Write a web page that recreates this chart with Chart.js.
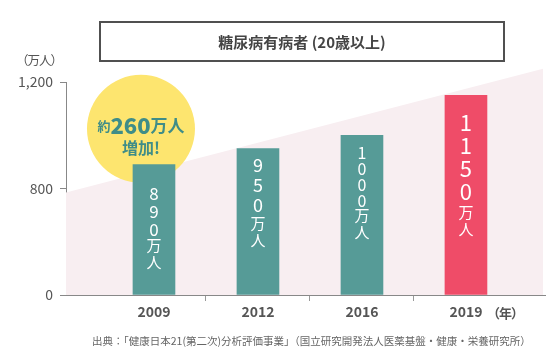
<!DOCTYPE html>
<html>
<head>
<meta charset="utf-8">
<script src="https://cdn.jsdelivr.net/npm/chart.js@4.4.1/dist/chart.umd.min.js"></script>
<style>
    body { margin: 0; background: #fff; font-family: "Noto Sans CJK JP", sans-serif; }
    #wrap { position: relative; width: 560px; height: 360px; }
    #chart { position: absolute; left: 0; top: 0; }
    .txt { position: absolute; color: #555; white-space: nowrap; }
    #title {
        position: absolute; left: 99px; top: 21px; width: 406px; height: 41px;
        box-sizing: border-box; border: 2px solid #505050;
        display: flex; align-items: center; justify-content: center;
        font-weight: bold; font-size: 15px; color: #444;
    }
</style>
</head>
<body>
<div id="wrap">
    <canvas id="chart" width="560" height="360"></canvas>
    <div id="title">糖尿病有病者 (20歳以上)</div>
    <div class="txt" style="left:16px; top:50px; font-size:12.5px; letter-spacing:-1px;">（万人）</div>
    <div class="txt" style="left:487px; top:303px; font-size:13px; font-weight:bold; letter-spacing:-1px;">（年）</div>
    <div class="txt" style="left:92px; top:333px; font-size:10.5px; color:#666;">出典：「健康日本21(第二次)分析評価事業」（国立研究開発法人医薬基盤・健康・栄養研究所）</div>
</div>
<script>
// data
const years = ['2009', '2012', '2016', '2019'];
const patients = [890, 950, 1000, 1150];
const yTicks = [0, 800, 1200];
const bubbleLines = ['約260万人', '増加!'];

// styles
const TEAL = '#569b97';
const RED = '#ef4c68';
const barColors = [TEAL, TEAL, TEAL, RED];
// label font size / line pitch / first line offset for the text inside each bar
const barText = [
    { size: 17, pitch: 18, top: 29 },
    { size: 18, pitch: 20, top: 17 },
    { size: 16, pitch: 16, top: 18 },
    { size: 22, pitch: 23, top: 27 },
];

// y axis with a break at 800: 0-800 and 800-1200 get the same height
const Y_BREAK = yTicks[1];
const Y_TOP = yTicks[2];
class BrokenScale extends Chart.LinearScale {
    fwd(v) {
        return v <= Y_BREAK ? v / Y_BREAK : 1 + (v - Y_BREAK) / (Y_TOP - Y_BREAK);
    }
    getPixelForValue(v) {
        if (v === null || isNaN(v)) return NaN;
        const a = this.fwd(this.min), b = this.fwd(this.max);
        return this.getPixelForDecimal((this.fwd(v) - a) / (b - a));
    }
    getValueForPixel(p) {
        const a = this.fwd(this.min), b = this.fwd(this.max);
        const f = a + this.getDecimalForPixel(p) * (b - a);
        return f <= 1 ? f * Y_BREAK : Y_BREAK + (f - 1) * (Y_TOP - Y_BREAK);
    }
}
BrokenScale.id = 'broken';
BrokenScale.defaults = Chart.LinearScale.defaults;
Chart.register(BrokenScale);

const decor = {
    id: 'decor',
    beforeDatasetsDraw(chart) {
        const { ctx, scales: { x, y } } = chart;
        ctx.save();
        // pink rising band
        ctx.fillStyle = '#f8eef1';
        ctx.beginPath();
        ctx.moveTo(x.left, y.getPixelForValue(0));
        ctx.lineTo(x.left, y.getPixelForValue(770));
        ctx.lineTo(x.right - 2, y.getPixelForValue(1250));
        ctx.lineTo(x.right - 2, y.getPixelForValue(0));
        ctx.closePath();
        ctx.fill();
        // yellow bubble
        const cx = x.getPixelForValue(-0.125);
        const cy = y.getPixelForValue(1024);
        ctx.fillStyle = '#fde56f';
        ctx.beginPath();
        ctx.arc(cx, cy, 54, 0, Math.PI * 2);
        ctx.fill();
        ctx.fillStyle = '#3f8d88';
        ctx.textBaseline = 'middle';
        ctx.textAlign = 'left';
        const parts = [
            { t: '約', f: 'bold 13px "Noto Sans CJK JP"' },
            { t: '260', f: '900 22px "Noto Sans CJK JP"' },
            { t: '万人', f: 'bold 17px "Noto Sans CJK JP"' },
        ];
        let w = 0;
        parts.forEach((p) => { ctx.font = p.f; w += ctx.measureText(p.t).width; });
        let px = cx - w / 2;
        parts.forEach((p) => {
            ctx.font = p.f;
            ctx.fillText(p.t, px, cy - 3);
            px += ctx.measureText(p.t).width;
        });
        ctx.textAlign = 'center';
        ctx.font = 'bold 16px "Noto Sans CJK JP"';
        ctx.fillText(bubbleLines[1], cx, cy + 19);
        ctx.restore();
    },
    afterDatasetsDraw(chart) {
        const { ctx } = chart;
        const meta = chart.getDatasetMeta(0);
        ctx.save();
        ctx.fillStyle = '#fff';
        ctx.textAlign = 'center';
        ctx.textBaseline = 'middle';
        meta.data.forEach((bar, i) => {
            const s = barText[i];
            const chars = String(patients[i]).split('');
            let yy = bar.y + s.top;
            ctx.font = `${s.size}px "Noto Sans CJK JP"`;
            chars.forEach((c) => { ctx.fillText(c, bar.x, yy); yy += s.pitch; });
            ctx.font = '15px "Noto Sans CJK JP"';
            ['万', '人'].forEach((c) => { ctx.fillText(c, bar.x, yy - 2); yy += 17; });
        });
        ctx.restore();
    },
};

new Chart(document.getElementById('chart'), {
    type: 'bar',
    data: {
        datasets: [{
            data: patients.map((v, i) => ({ x: i, y: v })),
            backgroundColor: barColors,
            barThickness: 42,
        }],
    },
    options: {
        responsive: false,
        animation: false,
        events: [],
        layout: { padding: { top: 82, right: 15, left: 0, bottom: 0 } },
        plugins: { legend: { display: false }, tooltip: { enabled: false } },
        scales: {
            x: {
                type: 'linear',
                offset: false,
                min: -0.846,
                max: 3.76,
                afterBuildTicks: (s) => { s.ticks = years.map((_, i) => ({ value: i })); },
                afterFit: (s) => { s.height = 65; },
                ticks: {
                    callback: (v) => years[v],
                    color: '#555',
                    font: { family: '"Noto Sans CJK JP"', size: 14, weight: 'bold' },
                    padding: 2,
                    maxRotation: 0,
                },
                grid: {
                    offset: true,
                    drawOnChartArea: false,
                    tickLength: 6,
                    color: (c) => (c.index === undefined || c.index === 0 ? 'rgba(0,0,0,0)' : '#999'),
                },
                border: { color: '#888' },
            },
            y: {
                type: 'broken',
                min: 0,
                max: Y_TOP,
                afterBuildTicks: (s) => { s.ticks = yTicks.map((v) => ({ value: v })); },
                afterFit: (s) => { s.width = 66; },
                ticks: {
                    callback: (v) => v.toLocaleString('en-US'),
                    color: '#555',
                    font: { family: '"Noto Sans CJK JP"', size: 14 },
                    padding: 7,
                },
                grid: { drawOnChartArea: false, tickLength: 6, color: '#888' },
                border: { color: '#888' },
            },
        },
    },
    plugins: [decor],
});
</script>
</body>
</html>
